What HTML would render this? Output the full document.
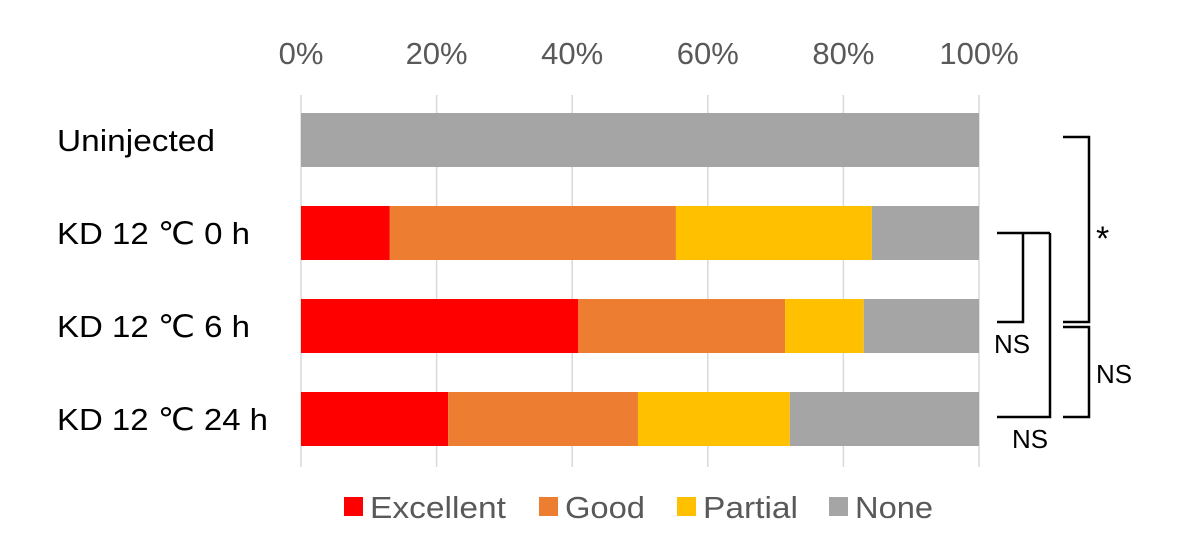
<!DOCTYPE html>
<html><head><meta charset="utf-8"><style>
body{margin:0;background:#fff;}
svg{display:block;font-family:"Liberation Sans",sans-serif;}
</style></head><body>
<svg id="chart" width="1194" height="540" viewBox="0 0 1194 540" xmlns="http://www.w3.org/2000/svg">
<g id="grid"></g>
<g id="xticks"></g>
<g id="bars"></g>
<g id="cats"></g>
<g stroke="#000" stroke-width="2.5" fill="none">
<path d="M1063 137 H1089 V322 H1063"/>
<path d="M1063 327 H1089 V417 H1063"/>
<path d="M997 233 H1050 M1023 233 V322 H997"/>
<path d="M1050 233 V417 H997"/>
</g>
<g font-size="26" fill="#000">
<text x="1096" y="250" font-size="34">*</text>
<text x="1096" y="383">NS</text>
<text x="994" y="353">NS</text>
<text x="1012" y="448">NS</text>
</g>
<g id="legend"></g>
</svg>
<script>
const categories=["Uninjected","KD 12 \u2103 0 h","KD 12 \u2103 6 h","KD 12 \u2103 24 h"];
const seriesNames=["Excellent","Good","Partial","None"];
const excellent=[0,13.1,40.9,21.7];
const good=[0,42.2,30.5,28.0];
const partial=[0,28.9,11.6,22.4];
const none=[100,15.8,17.0,27.9];
const tickLabels=["0%","20%","40%","60%","80%","100%"];
const tickValues=[0,20,40,60,80,100];
const colors=["#ff0000","#ed7d31","#ffc000","#a5a5a5"];
const NS="http://www.w3.org/2000/svg";
const x0=301,x1=979;
const xs=v=>x0+(x1-x0)*v/100;
const rowY=i=>113+i*93;
const barH=54;
const catW=[158,193,193,211];
const legX=[344,539,677,829];
const legW=[136,80,95,78];
function mk(t,a,p){const e=document.createElementNS(NS,t);for(const k in a)e.setAttribute(k,a[k]);p.appendChild(e);return e;}
const grid=document.getElementById('grid'),xt=document.getElementById('xticks');
tickValues.forEach((v,i)=>{
 const l=mk('line',{x1:xs(v),x2:xs(v),y1:95,y2:467,stroke:'#d9d9d9','stroke-width':1.5},grid);
 
 
 const t=mk('text',{x:xs(v),y:64,'text-anchor':'middle','font-size':31,fill:'#595959'},xt);
 t.textContent=tickLabels[i];
 
 
});
const series=[excellent,good,partial,none];
const bars=document.getElementById('bars'),cats=document.getElementById('cats');
categories.forEach((c,i)=>{
 let acc=0;
 series.forEach((s,j)=>{
  const r=mk('rect',{x:xs(acc),y:rowY(i),width:xs(acc+s[i])-xs(acc),height:barH,fill:colors[j]},bars);
  
  
  acc+=s[i];
 });
 const t=mk('text',{x:57,y:rowY(i)+barH/2+11,'font-size':31,fill:'#000',textLength:catW[i],lengthAdjust:'spacingAndGlyphs'},cats);
 t.textContent=c;
 
 
});
const lg=document.getElementById('legend');
seriesNames.forEach((n,j)=>{
 const r=mk('rect',{x:legX[j],y:497,width:19,height:19,fill:colors[j]},lg);
 
 
 const t=mk('text',{x:legX[j]+26,y:518,'font-size':31,fill:'#595959',textLength:legW[j],lengthAdjust:'spacingAndGlyphs'},lg);
 t.textContent=n;
 
 
});
</script>
</body></html>
